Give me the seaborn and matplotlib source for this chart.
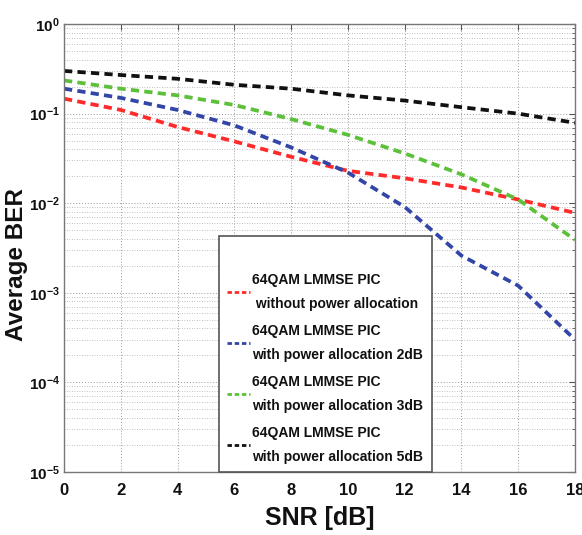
import numpy as np
import pandas as pd
import matplotlib
matplotlib.use("Agg")
import matplotlib.pyplot as plt
import seaborn as sns
from matplotlib.ticker import LogLocator, FixedLocator, NullFormatter, FuncFormatter
from matplotlib.lines import Line2D

snr = [0, 2, 4, 6, 8, 10, 12, 14, 16, 18]
ber_no_pa = [0.147, 0.11, 0.071, 0.049, 0.033, 0.023, 0.019, 0.015, 0.011, 0.0078]
ber_pa_2db = [0.19, 0.15, 0.11, 0.074, 0.042, 0.022, 0.0091, 0.0026, 0.0012, 0.0003]
ber_pa_3db = [0.235, 0.19, 0.16, 0.125, 0.087, 0.058, 0.036, 0.021, 0.011, 0.0039]
ber_pa_5db = [0.30, 0.27, 0.245, 0.21, 0.19, 0.16, 0.14, 0.118, 0.10, 0.079]

labels = ["64QAM LMMSE PIC\n without power allocation",
          "64QAM LMMSE PIC\nwith power allocation 2dB",
          "64QAM LMMSE PIC\nwith power allocation 3dB",
          "64QAM LMMSE PIC\nwith power allocation 5dB"]
colors = ["#ff2b2b", "#3346a8", "#5cc03a", "#111111"]

series = [ber_no_pa, ber_pa_2db, ber_pa_3db, ber_pa_5db]
df = pd.concat([pd.DataFrame({"SNR": snr, "BER": s, "Series": lab})
                for s, lab in zip(series, labels)], ignore_index=True)

sns.set_style("white")
plt.rcParams["font.family"] = ["Liberation Sans", "DejaVu Sans"]
plt.rcParams["font.weight"] = "bold"
plt.rcParams["mathtext.fontset"] = "custom"
plt.rcParams["mathtext.rm"] = "Liberation Sans:bold"
plt.rcParams["mathtext.bf"] = "Liberation Sans:bold"
plt.rcParams["mathtext.default"] = "rm"

fig = plt.figure(figsize=(5.82, 5.35), dpi=100)
ax = fig.add_axes([0.110, 0.1178, 0.878, 0.8372])

sns.lineplot(data=df, x="SNR", y="BER", hue="Series", palette=colors,
             hue_order=labels, ax=ax, linewidth=2.7, legend=False)
for ln in ax.get_lines():
    ln.set_linestyle((0, (2.2, 1.4)))

ax.set_yscale("log")
ax.set_xlim(0, 18)
ax.set_ylim(1e-5, 1)
ax.xaxis.set_major_locator(FixedLocator(np.arange(0, 19, 2)))
ax.yaxis.set_major_locator(LogLocator(base=10, numticks=10))
ax.yaxis.set_minor_locator(LogLocator(base=10, subs=np.arange(2, 10), numticks=10))
ax.yaxis.set_minor_formatter(NullFormatter())
ax.yaxis.set_major_formatter(FuncFormatter(lambda v, p: r"$10^{%d}$" % int(round(np.log10(v)))))

ax.grid(True, which="major", color="#999999", linestyle=(0, (1, 2)), linewidth=0.7)
ax.grid(True, which="minor", axis="y", color="#aaaaaa", linestyle=(0, (1, 2)), linewidth=0.6)
ax.tick_params(direction="in", which="both", top=True, right=True, length=4,
               color="#555555")
ax.tick_params(axis="x", labelsize=12, pad=8, labelcolor="#111111")
ax.tick_params(axis="y", labelsize=11, pad=3, labelcolor="#111111")
ax.tick_params(which="minor", length=2)
for sp in ax.spines.values():
    sp.set_color("#777777")
    sp.set_linewidth(1.0)

ax.set_xlabel("SNR [dB]", fontsize=18, fontweight="bold", color="#111111")
ax.set_ylabel("Average BER", fontsize=17.5, fontweight="bold", color="#111111")
ax.xaxis.set_label_coords(0.5, -0.075)
ax.yaxis.set_label_coords(-0.071, 0.464)

handles = [Line2D([0], [0], color=c, lw=2.0, linestyle=(0, (1.6, 1.0))) for c in colors]
leg = ax.legend(handles, labels, loc="lower left", bbox_to_anchor=(0.303, 0.0),
                frameon=True, fancybox=False, edgecolor="#555555", framealpha=1,
                prop={"family": "Liberation Sans", "weight": "bold", "size": 10.0},
                handlelength=1.65, handletextpad=0.15,
                labelspacing=0.95, borderpad=0.6, borderaxespad=0.0,
                title=" ", title_fontsize=12)
for t in leg.get_texts():
    t.set_linespacing(1.89)
    t.set_color("#111111")
leg.get_frame().set_linewidth(1.2)

fig.savefig("out.png", dpi=100)
